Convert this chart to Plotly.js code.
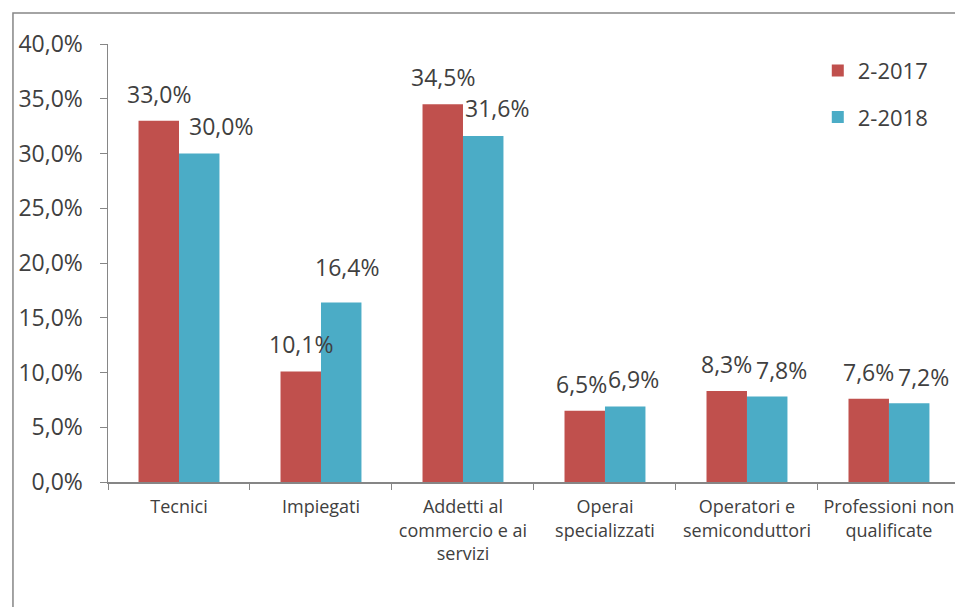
<!DOCTYPE html>
<html>
<head>
<meta charset="utf-8">
<script src="https://cdn.plot.ly/plotly-3.0.1.min.js"></script>
<style>html,body{margin:0;padding:0;background:#fff;}#chart{width:955px;height:607px;}</style>
</head>
<body>
<div id="chart"></div>
<script>
const categories = ["Tecnici", "Impiegati", "Addetti al<br>commercio e ai<br>servizi", "Operai<br>specializzati", "Operatori e<br>semiconduttori", "Professioni non<br>qualificate"];
const series2017 = [33.0, 10.1, 34.5, 6.5, 8.3, 7.6];
const series2018 = [30.0, 16.4, 31.6, 6.9, 7.8, 7.2];
const seriesNames = ["2-2017", "2-2018"];
const yTicks = [0, 5, 10, 15, 20, 25, 30, 35, 40];

const RED = "#C0504D", BLUE = "#4BACC6", TXT = "#404040", AX = "#868686";
const FONT = "'Open Sans', 'Noto Sans', sans-serif";

const fmt = v => v.toFixed(1).replace(".", ",") + "%";

const traces = [
  {type: "bar", name: seriesNames[0], x: categories, y: series2017, marker: {color: RED, line: {width: 0}}, legendgroup: "a", hoverinfo: "none"},
  {type: "bar", name: seriesNames[1], x: categories, y: series2018, marker: {color: BLUE, line: {width: 0}}, legendgroup: "b", hoverinfo: "none"}
];

// label offsets (style only)
const redShift = [0, 0, 0, -3, 0, 0];
const blueShift = [22, 6, 14, 9, 15, 15];
const blueYShift = [28, 35, 28, 27, 27, 26];
const annotations = [];
series2017.forEach((v, i) => annotations.push({
  x: categories[i], y: v, xref: "x", yref: "y", text: fmt(v), showarrow: false,
  xshift: -20 + redShift[i], yshift: 27, font: {family: FONT, size: 23, color: TXT}
}));
series2018.forEach((v, i) => annotations.push({
  x: categories[i], y: v, xref: "x", yref: "y", text: fmt(v), showarrow: false,
  xshift: 20 + blueShift[i], yshift: blueYShift[i], font: {family: FONT, size: 23, color: TXT}
}));

const layout = {
  width: 955, height: 607,
  margin: {l: 108, r: 0, t: 44, b: 125},
  paper_bgcolor: "#fff", plot_bgcolor: "#fff",
  separators: ",.",
  font: {family: FONT, color: TXT},
  barmode: "group", bargap: 0.43, bargroupgap: 0,
  xaxis: {
    type: "category", range: [-0.5, 5.465], tickson: "boundaries",
    ticks: "outside", ticklen: 6, tickcolor: AX, showline: true, linecolor: AX, linewidth: 1.5,
    ticklabelstandoff: 8,
    showgrid: false, tickfont: {family: FONT, size: 18, color: TXT}, fixedrange: true
  },
  yaxis: {
    range: [0, 40], tickmode: "array", tickvals: yTicks, ticktext: yTicks.map(fmt),
    ticks: "outside", ticklen: 7, tickcolor: AX, showline: true, linecolor: AX, linewidth: 1.5,
    ticklabelstandoff: 12,
    showgrid: false, zeroline: false, tickfont: {family: FONT, size: 23, color: TXT}, fixedrange: true
  },
  showlegend: true,
  legend: {x: 0.838, y: 0.987, xanchor: "left", yanchor: "top", font: {family: FONT, size: 22, color: TXT}, tracegroupgap: 15, traceorder: "grouped", bgcolor: "rgba(0,0,0,0)"},
  annotations: annotations,
  shapes: [{type: "rect", xref: "paper", yref: "paper", x0: -0.1122, x1: 1.2, y0: -0.5, y1: 1.0708, line: {color: AX, width: 1.5}, fillcolor: "rgba(0,0,0,0)", layer: "below"}]
};

Plotly.newPlot("chart", traces, layout, {displayModeBar: false, staticPlot: true});
</script>
</body>
</html>
